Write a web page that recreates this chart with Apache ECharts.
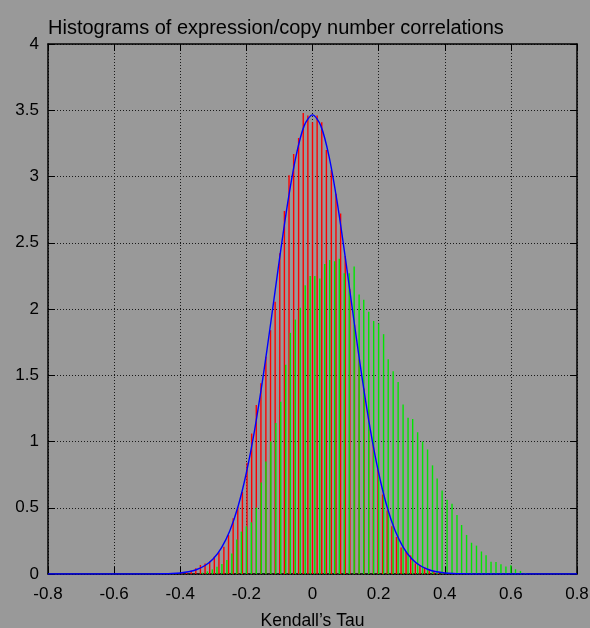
<html>
<head>
<script src="https://cdn.jsdelivr.net/npm/echarts@6/dist/echarts.min.js"></script>
<style>
  html, body { margin: 0; padding: 0; background: #999999; }
  #chart { width: 590px; height: 628px; }
</style>
</head>
<body>
<div id="chart"></div>
<script>
// red histogram (bin centres / density)
var redTau = [-0.395, -0.381, -0.367, -0.353, -0.339, -0.325, -0.311, -0.297, -0.283, -0.268,
              -0.254, -0.240, -0.226, -0.212, -0.198, -0.184, -0.170, -0.156, -0.141, -0.127,
              -0.113, -0.099, -0.085, -0.071, -0.057, -0.042, -0.028, -0.014, 0,
              0.014, 0.028, 0.042, 0.057, 0.071, 0.085, 0.099, 0.113, 0.127, 0.141,
              0.156, 0.170, 0.184, 0.198, 0.212, 0.226, 0.240, 0.254, 0.268, 0.283,
              0.297, 0.311, 0.325, 0.339, 0.353, 0.367, 0.381, 0.395];
var redVal = [0.005, 0.012, 0.025, 0.043, 0.068, 0.08, 0.095, 0.131, 0.164, 0.206,
              0.294, 0.42, 0.508, 0.62, 0.84, 1.06, 1.275, 1.44, 1.64, 1.84,
              2.055, 2.42, 2.74, 3.01, 3.17, 3.29, 3.48, 3.46, 3.41,
              3.46, 3.41, 3.20, 3.05, 2.87, 2.72, 2.40, 2.15, 1.88, 1.62,
              1.40, 1.24, 1.01, 0.81, 0.60, 0.48, 0.36, 0.28, 0.20, 0.168,
              0.14, 0.08, 0.067, 0.05, 0.035, 0.022, 0.012, 0.006];

// green histogram
var greenTau = [-0.333, -0.318, -0.303, -0.289, -0.274, -0.259, -0.244, -0.229, -0.215, -0.200,
                -0.185, -0.170, -0.155, -0.141, -0.126, -0.111, -0.096, -0.081, -0.067, -0.052,
                -0.037, -0.022, -0.007, 0.007, 0.022, 0.037, 0.052, 0.067, 0.081, 0.096,
                0.111, 0.126, 0.141, 0.155, 0.170, 0.185, 0.200, 0.215, 0.229, 0.244,
                0.259, 0.274, 0.289, 0.303, 0.318, 0.333, 0.348, 0.363, 0.377, 0.392,
                0.407, 0.422, 0.437, 0.451, 0.466, 0.481, 0.496, 0.511, 0.525, 0.540,
                0.555, 0.570, 0.585, 0.600, 0.614, 0.629, 0.644];
var greenVal = [0.01, 0.02, 0.035, 0.055, 0.075, 0.105, 0.155, 0.26, 0.32, 0.36,
                0.39, 0.50, 0.69, 0.85, 1.00, 1.14, 1.30, 1.58, 1.82, 1.92,
                2.01, 2.18, 2.25, 2.25, 2.23, 2.34, 2.37, 2.36, 2.38, 2.27,
                2.27, 2.32, 2.11, 2.07, 1.98, 1.91, 1.89, 1.81, 1.62, 1.53,
                1.45, 1.28, 1.18, 1.17, 1.07, 1.00, 0.94, 0.82, 0.72, 0.63,
                0.56, 0.53, 0.445, 0.37, 0.295, 0.236, 0.214, 0.17, 0.141, 0.093,
                0.09, 0.073, 0.056, 0.066, 0.036, 0.023, 0.008];

// blue fitted curve
var curveTau = [-0.8, -0.5, -0.45, -0.425, -0.4, -0.375, -0.35, -0.325, -0.3, -0.275,
                -0.25, -0.225, -0.2, -0.175, -0.15, -0.125, -0.1, -0.075, -0.05, -0.025,
                0, 0.025, 0.05, 0.075, 0.1, 0.125, 0.15, 0.175, 0.2, 0.225,
                0.25, 0.275, 0.3, 0.325, 0.35, 0.375, 0.4, 0.425, 0.45, 0.5, 0.8];
var curveVal = [0, 0, 0.0015, 0.0035, 0.008, 0.017, 0.034, 0.064, 0.115, 0.199,
                0.326, 0.511, 0.764, 1.088, 1.480, 1.919, 2.374, 2.801, 3.152, 3.384,
                3.465, 3.384, 3.152, 2.801, 2.374, 1.919, 1.480, 1.088, 0.764, 0.511,
                0.326, 0.199, 0.115, 0.064, 0.034, 0.017, 0.008, 0.0035, 0.0015, 0, 0];

function pairs(xs, ys) {
    return xs.map(function (x, i) { return [x, ys[i]]; });
}

var font = 'Liberation Sans, Arial, sans-serif';
var border = { show: true, onZero: false, lineStyle: { color: '#000', width: 1.5 } };
var ticks = { show: true, inside: true, length: 7, lineStyle: { color: '#000', width: 1 } };
var dots = { show: true, lineStyle: { color: '#1a1a1a', width: 1, type: [1, 2] } };

var myChart = echarts.init(document.getElementById('chart'));
var option = {
    backgroundColor: '#999999',
    animation: false,
    title: {
        text: 'Histograms of expression/copy number correlations',
        left: 43,
        top: 6,
        textStyle: { color: '#000', fontSize: 20, fontWeight: 'normal', fontFamily: font }
    },
    grid: { left: 48, right: 13, top: 44, bottom: 54, containLabel: false, outerBoundsMode: 'none' },
    xAxis: [
        {
            type: 'value', min: -0.8, max: 0.8, interval: 0.2, position: 'bottom',
            axisLine: border, axisTick: ticks, splitLine: dots,
            axisLabel: { color: '#000', fontSize: 17, margin: 6, fontFamily: font },
            name: 'Kendall\u2019s Tau', nameLocation: 'middle', nameGap: 32, nameMoveOverlap: false,
            nameTextStyle: { color: '#000', fontSize: 17.5, fontFamily: font }
        },
        {
            type: 'value', min: -0.8, max: 0.8, interval: 0.2, position: 'top',
            axisLine: border, axisTick: ticks, splitLine: { show: false },
            axisLabel: { show: false }
        }
    ],
    yAxis: [
        {
            type: 'value', min: 0, max: 4, interval: 0.5, position: 'left',
            axisLine: border, axisTick: ticks, splitLine: dots,
            axisLabel: { color: '#000', fontSize: 17, margin: 9, fontFamily: font }
        },
        {
            type: 'value', min: 0, max: 4, interval: 0.5, position: 'right',
            axisLine: border, axisTick: ticks, splitLine: { show: false },
            axisLabel: { show: false }
        }
    ],
    series: [
        {
            type: 'bar', data: pairs(redTau, redVal), barWidth: 1.4, barGap: '-100%',
            itemStyle: { color: '#ff0000' }
        },
        {
            type: 'bar', data: pairs(greenTau, greenVal), barWidth: 1.4, barGap: '-100%',
            itemStyle: { color: '#00e600' }
        },
        {
            type: 'line', data: pairs(curveTau, curveVal), showSymbol: false, smooth: 0.3,
            lineStyle: { color: '#0000ff', width: 1.4 }
        }
    ]
};
myChart.setOption(option);
</script>
</body>
</html>
